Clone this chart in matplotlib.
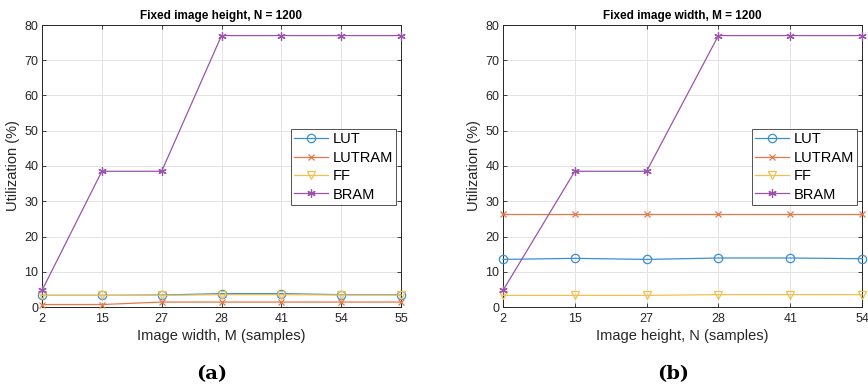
import matplotlib
matplotlib.use("Agg")
import matplotlib.pyplot as plt

plt.rcParams['font.family'] = ['Liberation Sans', 'DejaVu Sans']

# Panel (a): fixed image height N = 1200, sweep over image width M
width_labels = ["2", "15", "27", "28", "41", "54", "55"]
a_lut = [3.3, 3.3, 3.4, 3.8, 3.8, 3.5, 3.5]
a_lutram = [0.7, 0.7, 1.4, 1.4, 1.4, 1.4, 1.4]
a_ff = [3.3, 3.3, 3.3, 3.5, 3.5, 3.4, 3.4]
a_bram = [4.7, 38.5, 38.5, 77.0, 77.0, 77.0, 77.0]

# Panel (b): fixed image width M = 1200, sweep over image height N
height_labels = ["2", "15", "27", "28", "41", "54"]
b_lut = [13.5, 13.8, 13.5, 13.9, 13.9, 13.7]
b_lutram = [26.3, 26.3, 26.3, 26.3, 26.3, 26.3]
b_ff = [3.3, 3.3, 3.3, 3.5, 3.5, 3.5]
b_bram = [4.7, 38.5, 38.5, 77.0, 77.0, 77.0]

series_names = ["LUT", "LUTRAM", "FF", "BRAM"]
colors = ["#3c8fd0", "#e2794a", "#f0c050", "#9a55aa"]
markers = ["o", "x", "v", (6, 2, 0)]
msizes = [6, 4, 6, 6]

fig = plt.figure(figsize=(8.68, 3.86), dpi=100)
W, H = 868, 386


def draw_panel(rect, labels, data, title, xlabel, caption, cap_x):
    ax = fig.add_axes(rect)
    xs = list(range(len(labels)))
    handles = []
    for vals, name, c, m, ms in zip(data, series_names, colors, markers, msizes):
        h, = ax.plot(xs, vals, color=c, lw=0.9, marker=m, ms=ms,
                     markerfacecolor='none', markeredgecolor=c, mew=0.9,
                     label=name, clip_on=False, zorder=3)
        handles.append(h)
    ax.set_xlim(0, len(labels) - 1)
    ax.set_ylim(0, 80)
    ax.set_xticks(xs)
    ax.set_xticklabels(labels)
    ax.set_yticks(range(0, 81, 10))
    ax.grid(True, color="#e3e3e3", lw=0.7)
    ax.set_axisbelow(True)
    for s in ax.spines.values():
        s.set_color("#262626")
        s.set_linewidth(0.7)
    ax.tick_params(direction='in', length=3, width=0.6, colors="#262626",
                   labelsize=9, top=True, right=True)
    ax.tick_params(axis='x', pad=4)
    ax.tick_params(axis='y', pad=2.5)
    ax.set_title(title, fontsize=8.5, fontweight='bold', pad=4)
    ax.set_xlabel(xlabel, fontsize=10.5, color="#262626", labelpad=3)
    ax.set_ylabel("Utilization (%)", fontsize=10.5, color="#262626", labelpad=3)
    leg = ax.legend(handles=handles, loc='upper left',
                    bbox_to_anchor=(0.693, 0.632), fontsize=10.5,
                    frameon=True, fancybox=False, borderpad=0.25,
                    labelspacing=0.3, handlelength=2.3, handletextpad=0.3,
                    borderaxespad=0)
    leg.get_frame().set_edgecolor("#262626")
    leg.get_frame().set_linewidth(0.7)
    fig.text(cap_x, 1 - 374 / H, caption, ha='center', va='center',
             fontsize=14, fontweight='bold', family='DejaVu Serif')
    return ax


ax_h = (307 - 25) / H
draw_panel([42 / W, 1 - 307 / H, (401 - 42) / W, ax_h], width_labels,
           [a_lut, a_lutram, a_ff, a_bram],
           "Fixed image height, N = 1200", "Image width, M (samples)",
           "(a)", 212 / W)
draw_panel([503 / W, 1 - 307 / H, (862 - 503) / W, ax_h], height_labels,
           [b_lut, b_lutram, b_ff, b_bram],
           "Fixed image width, M = 1200", "Image height, N (samples)",
           "(b)", 673 / W)

fig.savefig("out.png", dpi=100)
